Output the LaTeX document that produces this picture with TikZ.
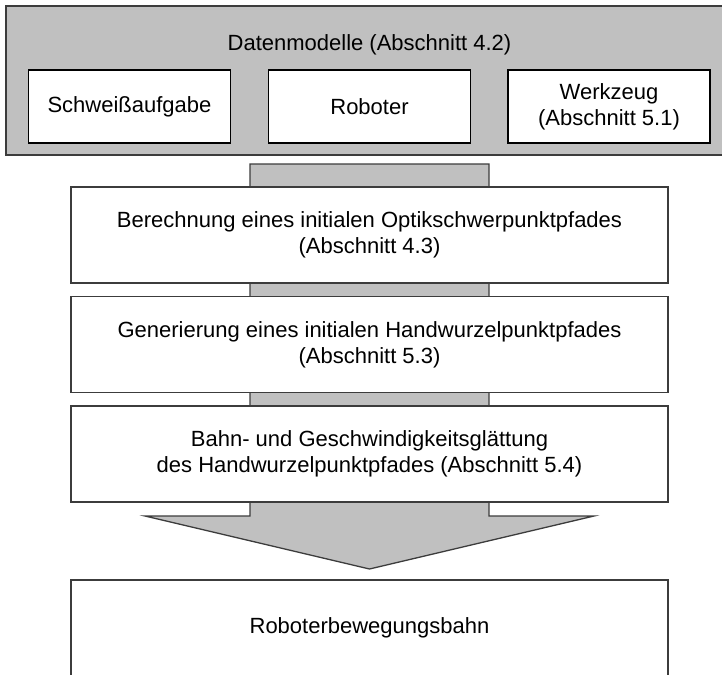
\documentclass[tikz,border=0pt]{standalone}
\usepackage{fontspec}
\setmainfont{Liberation Sans}

\definecolor{balken}{RGB}{192,192,192}
\definecolor{rand}{RGB}{60,60,60}

\tikzset{
	modell/.style={draw=black, line width=1.3pt, fill=white, minimum width=202pt, minimum height=73pt, align=center, inner sep=0pt},
	schritt/.style={draw=rand, line width=1.3pt, fill=white, minimum width=597pt, minimum height=96pt, align=center, inner sep=0pt},
}

\begin{document}
\begin{tikzpicture}[x=1pt,y=-1pt,font=\fontsize{22}{26}\selectfont]
	\clip (0,0) rectangle (722,674);
	\def\mx{369.5};

	% Datenmodelle
	\draw[rand, line width=1.6pt, fill=balken] (6,6) rectangle (740,155);
	\node (titel) at (\mx,45) {Datenmodelle (Abschnitt 4.2)};
	\node[modell] (schweiss) at (129.5,106.5) {Schweißaufgabe};
	\node[modell] (roboter) at (\mx,106.5) {Roboter};
	\node[modell] (werkzeug) at (609,106.5) {Werkzeug\\(Abschnitt 5.1)};

	% Balken mit Pfeilspitze
	\draw[rand, line width=1.3pt, fill=balken] (250,164) -- (250,516) -- (145,516) -- (\mx,569) -- (594,516) -- (489,516) -- (489,164) -- cycle;

	% Verarbeitungsschritte
	\node[schritt] (optik) at (\mx,235) {Berechnung eines initialen Optikschwerpunktpfades\\(Abschnitt 4.3)};
	\node[schritt] (handwurzel) at (\mx,344.5) {Generierung eines initialen Handwurzelpunktpfades\\(Abschnitt 5.3)};
	\node[schritt] (glaettung) at (\mx,454) {Bahn- und Geschwindigkeitsglättung\\des Handwurzelpunktpfades (Abschnitt 5.4)};

	% Ergebnis
	\draw[rand, line width=1.3pt, fill=white] (71,700) -- (71,580) -- (668,580) -- (668,700);
	\node (bahn) at (\mx,628) {Roboterbewegungsbahn};
\end{tikzpicture}
\end{document}
